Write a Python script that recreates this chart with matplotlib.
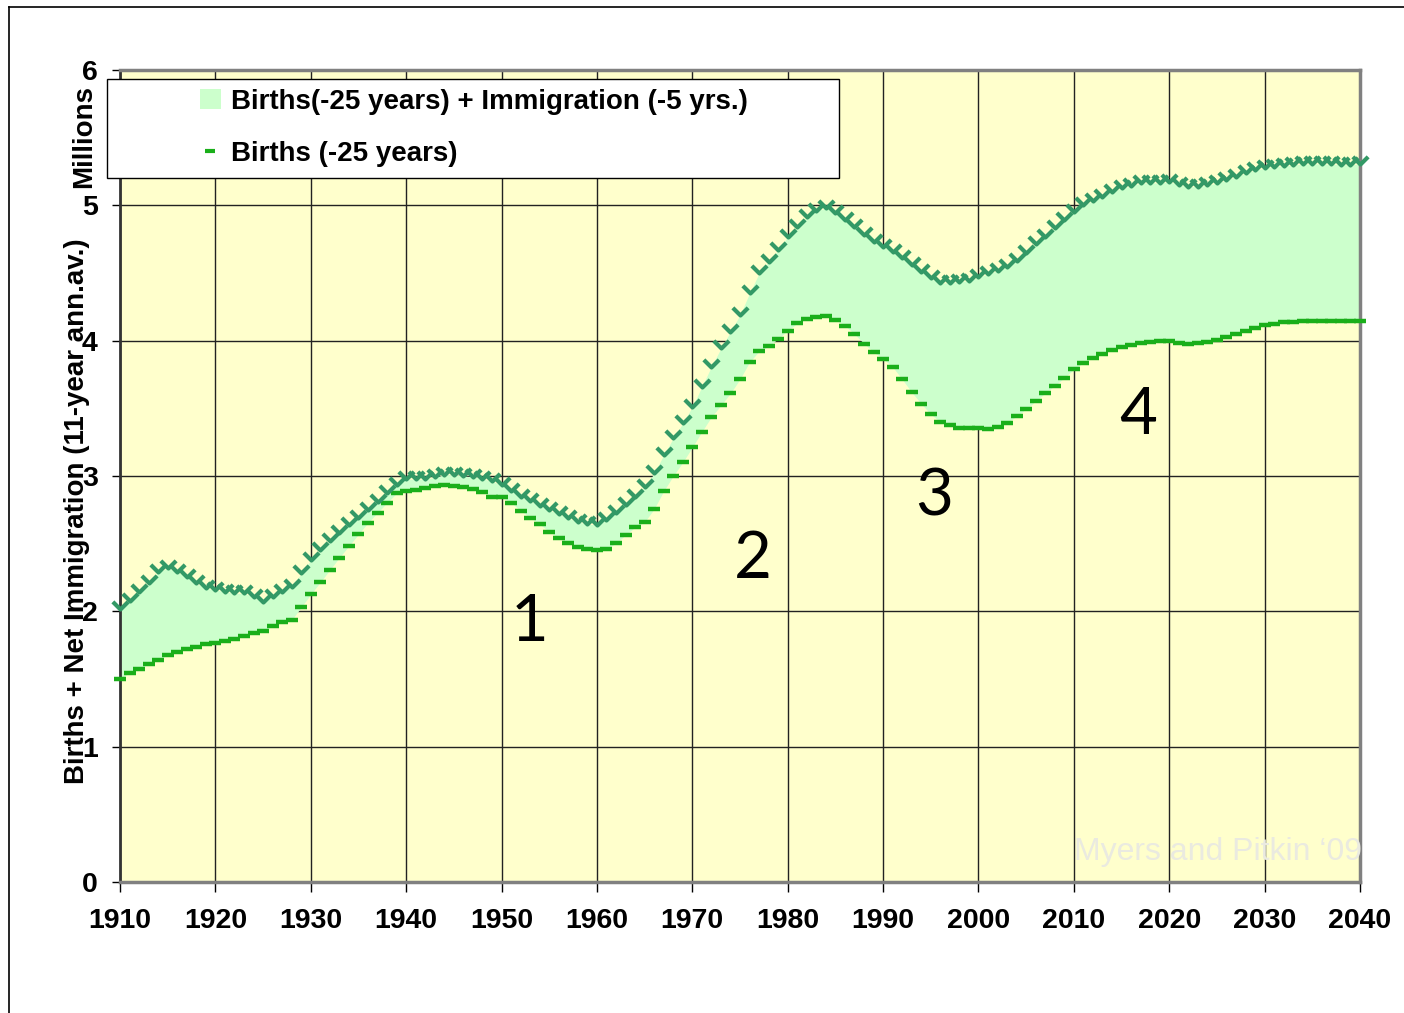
import matplotlib
matplotlib.use("Agg")
import matplotlib.pyplot as plt
from matplotlib.path import Path
from matplotlib.patches import Patch, Rectangle
from matplotlib.lines import Line2D

# Datos (millones, promedio anual de 11 años)
years = list(range(1910, 2041))

births = [
    1.50, 1.547, 1.574, 1.611, 1.640, 1.677, 1.697, 1.724, 1.734, 1.759,
    1.766, 1.779, 1.793, 1.818, 1.837, 1.857, 1.892, 1.921, 1.936, 2.03,
    2.126, 2.215, 2.306, 2.397, 2.483, 2.569, 2.655, 2.729, 2.803, 2.872,
    2.889, 2.90, 2.915, 2.926, 2.93, 2.926, 2.92, 2.904, 2.884, 2.847,
    2.842, 2.803, 2.744, 2.692, 2.643, 2.589, 2.540, 2.503, 2.473, 2.458,
    2.455, 2.46, 2.503, 2.564, 2.621, 2.66, 2.756, 2.889, 3.0, 3.101,
    3.212, 3.327, 3.436, 3.522, 3.611, 3.715, 3.842, 3.921, 3.958, 4.015,
    4.074, 4.128, 4.159, 4.177, 4.182, 4.153, 4.111, 4.049, 3.978, 3.916,
    3.865, 3.806, 3.715, 3.619, 3.534, 3.456, 3.401, 3.374, 3.357, 3.357,
    3.357, 3.35, 3.364, 3.394, 3.441, 3.495, 3.552, 3.613, 3.667, 3.726,
    3.788, 3.837, 3.872, 3.904, 3.931, 3.953, 3.965, 3.98, 3.99, 3.997,
    3.995, 3.983, 3.977, 3.98, 3.992, 4.007, 4.025, 4.049, 4.071, 4.094,
    4.113, 4.125, 4.136, 4.14, 4.145, 4.147, 4.148, 4.148, 4.148, 4.148,
    4.148,
]

births_immig = [
    2.02, 2.08, 2.145, 2.207, 2.29, 2.318, 2.29, 2.256, 2.207, 2.17,
    2.158, 2.145, 2.133, 2.133, 2.108, 2.07, 2.108, 2.145, 2.18, 2.28,
    2.38, 2.453, 2.52, 2.577, 2.638, 2.687, 2.749, 2.81, 2.872, 2.934,
    2.976, 2.976, 2.976, 2.99, 3.01, 3.01, 3.0, 2.995, 2.98, 2.96,
    2.934, 2.892, 2.847, 2.815, 2.781, 2.749, 2.719, 2.687, 2.662, 2.643,
    2.64, 2.675, 2.73, 2.786, 2.847, 2.921, 3.02, 3.155, 3.279, 3.389,
    3.512, 3.66, 3.808, 3.943, 4.066, 4.19, 4.35, 4.498, 4.584, 4.67,
    4.768, 4.842, 4.915, 4.96, 4.978, 4.946, 4.892, 4.842, 4.781, 4.731,
    4.695, 4.658, 4.608, 4.559, 4.51, 4.461, 4.424, 4.429, 4.436, 4.443,
    4.468, 4.493, 4.517, 4.547, 4.591, 4.65, 4.714, 4.768, 4.83, 4.892,
    4.951, 5.0, 5.035, 5.064, 5.101, 5.126, 5.143, 5.163, 5.168, 5.163,
    5.175, 5.15, 5.138, 5.138, 5.15, 5.163, 5.187, 5.212, 5.237, 5.261,
    5.274, 5.286, 5.291, 5.298, 5.306, 5.306, 5.306, 5.303, 5.301, 5.298,
    5.306,
]

x_ticks = list(range(1910, 2041, 10))
y_ticks = [0, 1, 2, 3, 4, 5, 6]

phase_labels = ['1', '2', '3', '4']
phase_x = [1952.9, 1976.4, 1995.4, 2016.7]
phase_y = [1.92, 2.38, 2.845, 3.45]

legend_labels = ['Births(-25 years) + Immigration (-5 yrs.)', 'Births (-25 years)']

# Estilo
plt.rcParams['font.family'] = ['Liberation Sans', 'DejaVu Sans']
plt.rcParams['font.weight'] = 'bold'

W, H = 1404, 1013
fig = plt.figure(figsize=(W / 100, H / 100), dpi=100)
ax = fig.add_axes([120 / W, 131 / H, 1240 / W, 812 / H])
ax.set_facecolor('#FFFFCC')

fill_color = '#CCFFCC'
upper_color = '#339966'
lower_color = '#1AAF1A'

ax.fill_between(years, births, births_immig, color=fill_color, lw=0, zorder=2)

# marcador en forma de V (mitad inferior de un rombo)
v_marker = Path([(-1, 1), (0, 0), (1, 1)], [Path.MOVETO, Path.LINETO, Path.LINETO])
ax.plot(years, births_immig, ls='none', marker=v_marker, ms=11, mfc='none',
        mec=upper_color, mew=3.0, clip_on=False, zorder=4)
ax.plot(years, births, ls='none', marker='_', ms=8, mew=3.2, color=lower_color,
        clip_on=False, zorder=3)

ax.set_xlim(1910, 2040)
ax.set_ylim(0, 6)
ax.set_xticks(x_ticks)
ax.set_yticks(y_ticks)
ax.tick_params(axis='x', direction='out', length=7, width=1, pad=12, labelsize=20.5)
ax.tick_params(axis='y', direction='out', length=6, width=1, pad=10, labelsize=20.5)
for lab in ax.get_xticklabels() + ax.get_yticklabels():
    lab.set_fontweight('bold')

ax.set_axisbelow(True)
ax.grid(True, color='#222222', lw=1.0)

ax.spines['left'].set_color('#333333')
ax.spines['left'].set_linewidth(2)
for s in ['top', 'right', 'bottom']:
    ax.spines[s].set_color('#808080')
    ax.spines[s].set_linewidth(2.5)

# Números de fase
for lab, px, py in zip(phase_labels, phase_x, phase_y):
    ax.text(px, py, lab, ha='center', va='center', fontsize=47,
            fontweight='normal', family=['Lato', 'DejaVu Sans'], color='black', zorder=6)

# Marca de agua
ax.text(2040.2, 0.22, 'Myers and Pitkin \u201809', ha='right', va='center',
        fontsize=23, fontweight='normal', color='#EAEAE0', zorder=6, clip_on=False)

# Etiquetas del eje y
fig.text(77 / W, 1 - 511 / H, 'Births + Net Immigration (11-year ann.av.)',
         rotation=90, ha='center', va='center', fontsize=20, fontweight='bold')
fig.text(84 / W, 1 - 137 / H, 'Millions', rotation=90, ha='center', va='center',
         fontsize=20, fontweight='bold')

# Leyenda
fig.add_artist(Rectangle((107 / W, 1 - 178 / H), 732 / W, 99 / H,
                         transform=fig.transFigure, facecolor='white',
                         edgecolor='black', lw=1, zorder=3))
handles = [Patch(facecolor=fill_color, edgecolor='none'),
           Line2D([], [], ls='none', marker='_', ms=7, mew=3, color=lower_color)]
leg = fig.legend(handles, legend_labels, loc='upper left',
                 bbox_to_anchor=(200 / W, 1 - 89 / H), frameon=False,
                 borderpad=0, borderaxespad=0, handlelength=0.75, handleheight=0.75,
                 handletextpad=0.35, labelspacing=0.95, numpoints=1,
                 prop={'size': 20, 'weight': 'bold'})
leg.set_zorder(4)

# Marco exterior
fig.add_artist(Line2D([9 / W, 1], [1 - 7.5 / H, 1 - 7.5 / H],
                      transform=fig.transFigure, color='black', lw=1.2))
fig.add_artist(Line2D([9 / W, 9 / W], [0, 1 - 7.5 / H],
                      transform=fig.transFigure, color='black', lw=1.2))

fig.savefig('out.png', dpi=100)
